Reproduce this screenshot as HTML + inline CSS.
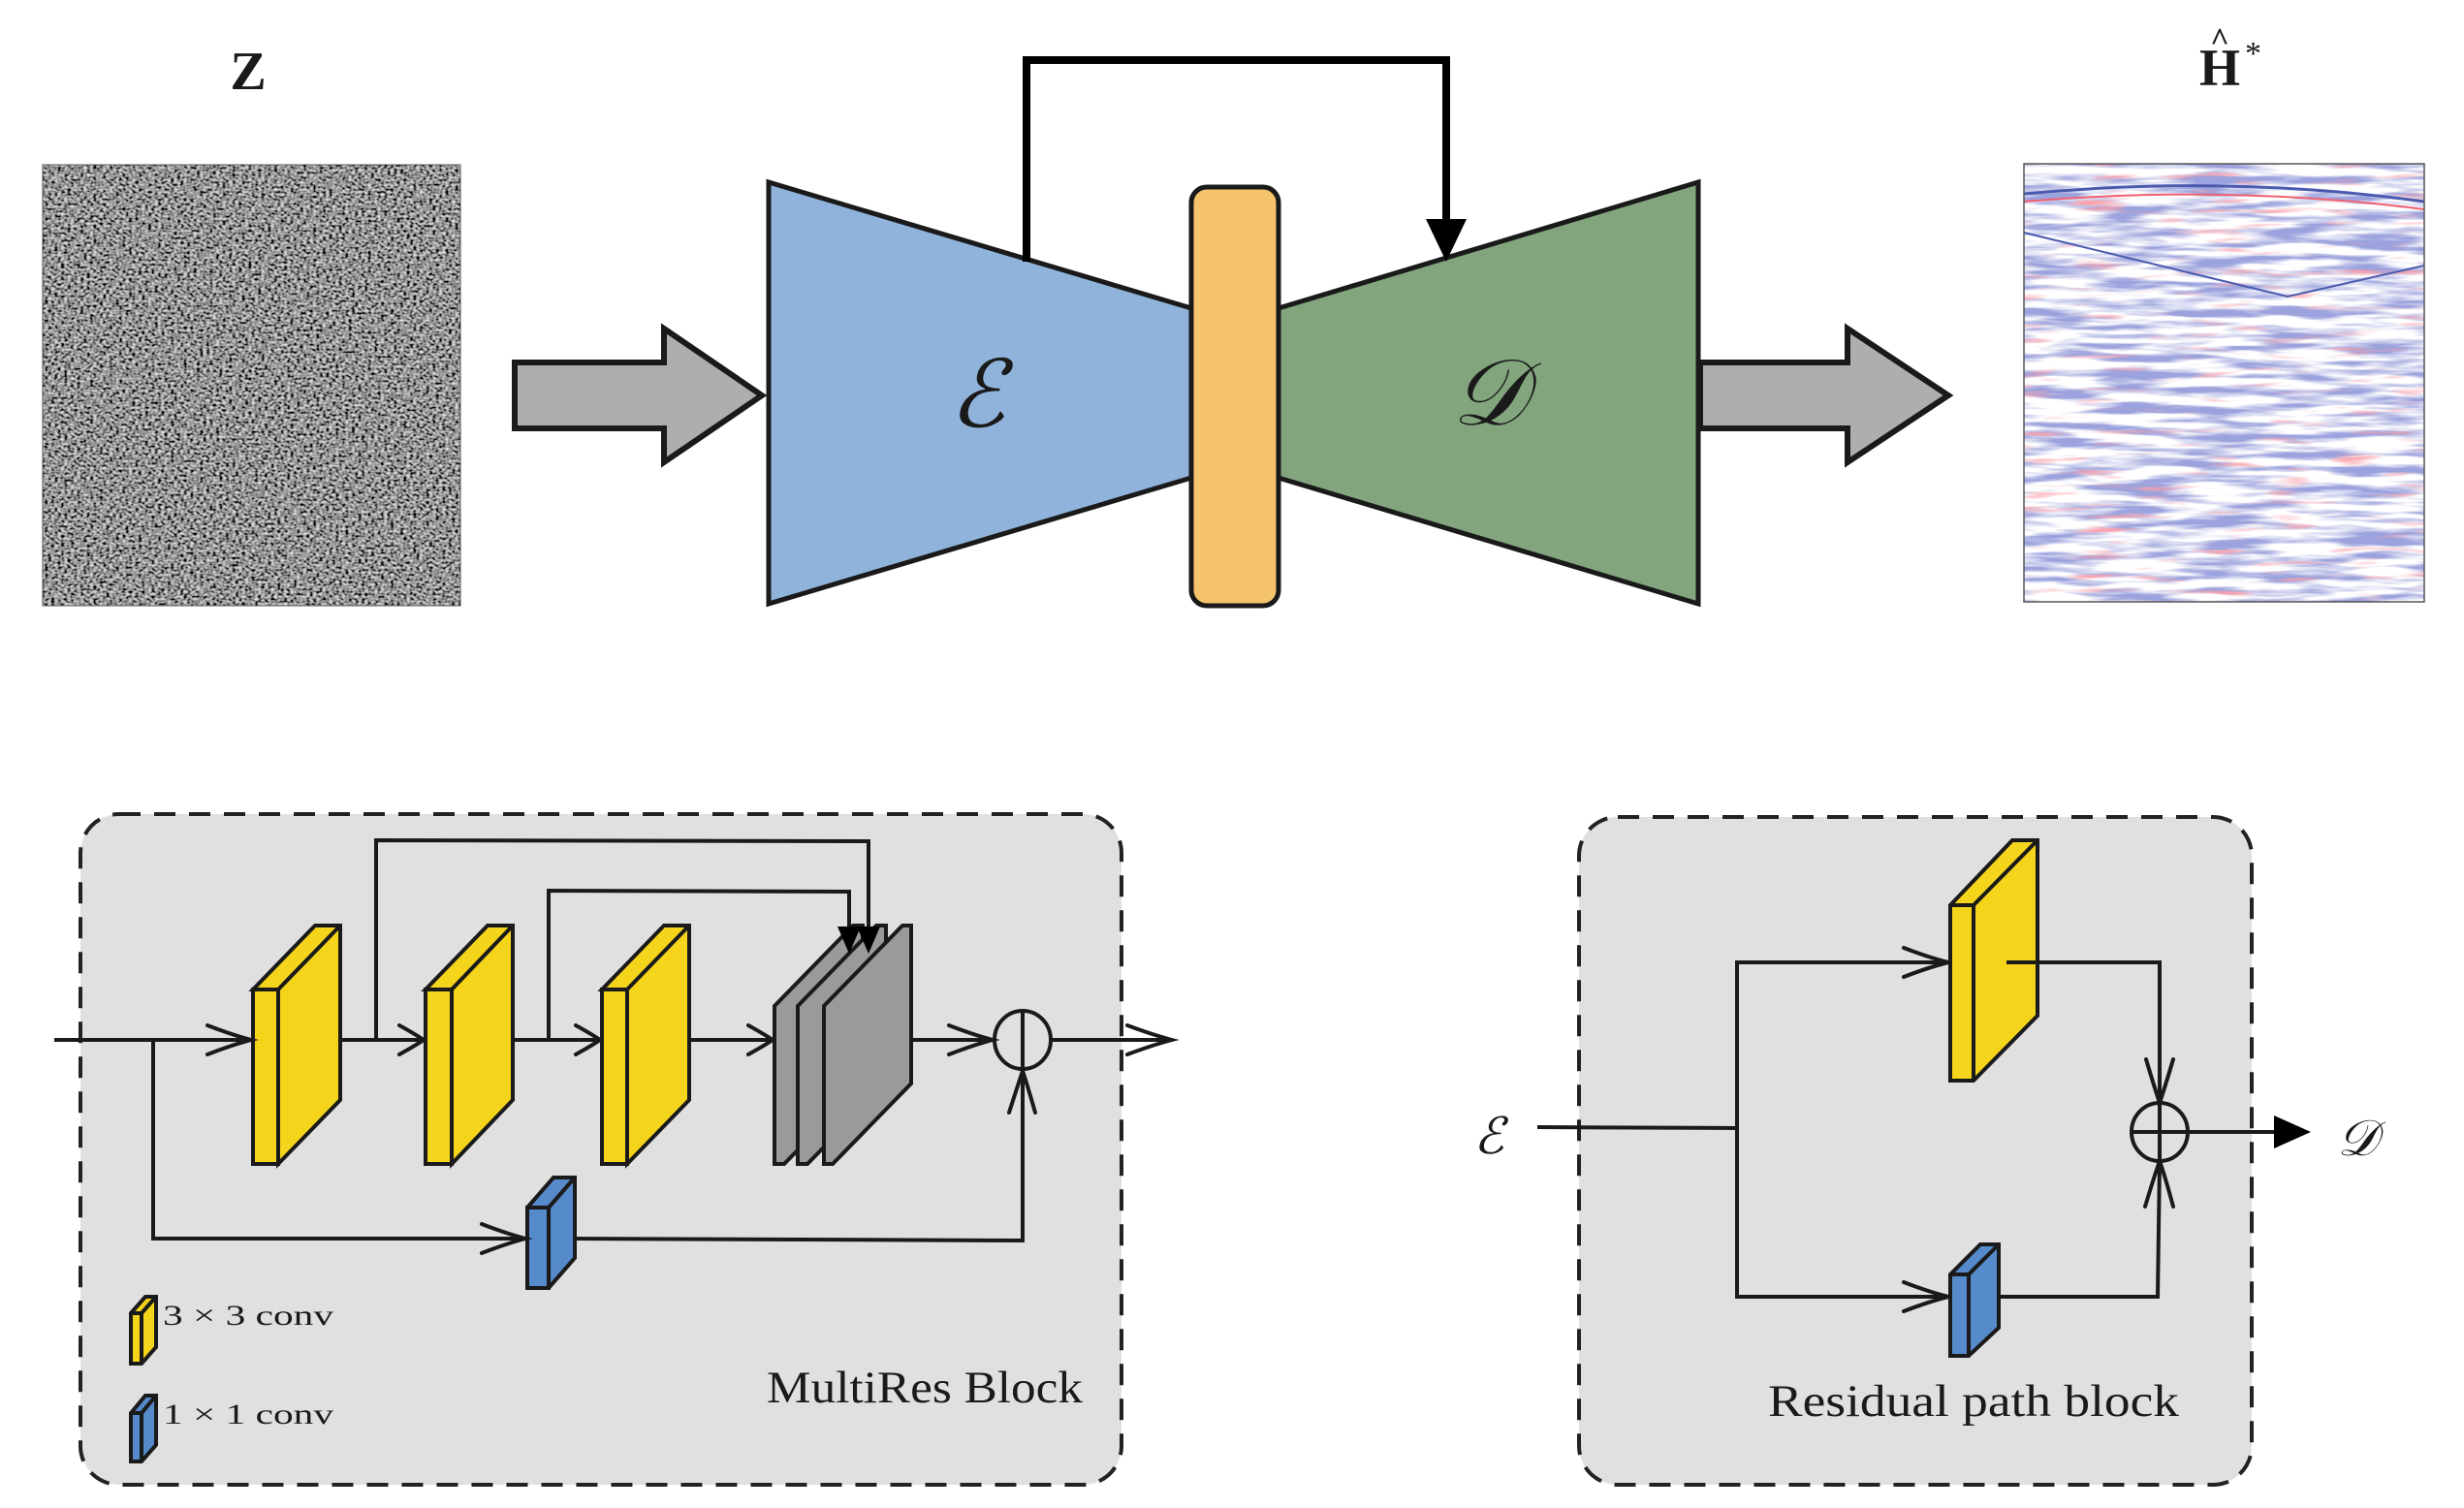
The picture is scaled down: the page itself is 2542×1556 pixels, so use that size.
<!DOCTYPE html>
<html><head><meta charset="utf-8"><style>
html,body{margin:0;padding:0;background:#fff;}
svg{display:block}
text{font-family:"Liberation Serif","DejaVu Serif",serif;fill:#1a1a1a}
</style></head><body>
<svg width="2542" height="1556" viewBox="0 0 2542 1556" xmlns="http://www.w3.org/2000/svg">
<defs>
<filter id="noise" x="0" y="0" width="100%" height="100%">
<feTurbulence type="fractalNoise" baseFrequency="0.3 0.4" numOctaves="1" seed="3"/>
<feColorMatrix type="matrix" values="1.6 0 0 0 -0.5  1.6 0 0 0 -0.5  1.6 0 0 0 -0.5  0 0 0 0 1"/>
</filter>
<filter id="seis" x="0" y="0" width="100%" height="100%">
<feTurbulence type="fractalNoise" baseFrequency="0.012 0.11" numOctaves="3" seed="7"/>
<feColorMatrix type="matrix" values="0 0 0 0 0.33  0 0 0 0 0.36  0 0 0 0 0.72  3.8 0 0 0 -1.55"/>
</filter>
<filter id="seis2" x="0" y="0" width="100%" height="100%">
<feTurbulence type="fractalNoise" baseFrequency="0.015 0.14" numOctaves="2" seed="19"/>
<feColorMatrix type="matrix" values="0 0 0 0 0.97  0 0 0 0 0.35  0 0 0 0 0.4  0 3.5 0 0 -2.1"/>
</filter>
</defs>

<text x="256" y="92" font-size="56" font-weight="bold" text-anchor="middle">Z</text>
<rect x="44" y="170" width="431" height="455" fill="#777"/>
<rect x="44" y="170" width="431" height="455" filter="url(#noise)"/>
<rect x="44" y="170" width="431" height="455" fill="none" stroke="#555" stroke-width="1"/>

<polygon points="531,374 685,374 685,339 786,408 685,477 685,442 531,442" fill="#adafad" stroke="#1a1a1a" stroke-width="6" stroke-linejoin="miter"/>

<polygon points="793,188 1229,318 1229,493 793,623" fill="#8fb3db" stroke="#1a1a1a" stroke-width="5"/>
<polygon points="1319,318 1752,188 1752,623 1319,493" fill="#82a57e" stroke="#1a1a1a" stroke-width="5"/>
<rect x="1229" y="193" width="90" height="432" rx="16" fill="#f5c36c" stroke="#1a1a1a" stroke-width="5"/>
<text x="1008" y="440" font-size="96" font-style="italic" text-anchor="middle">ℰ</text>
<text x="1536" y="438" font-size="96" font-style="italic" text-anchor="middle">𝒟</text>

<polyline points="1059,270 1059,62 1492,62 1492,232" fill="none" stroke="#000" stroke-width="8"/>
<polygon points="1471,226 1513,226 1492,270" fill="#000"/>

<polygon points="1754,374 1906,374 1906,339 2010,408 1906,477 1906,442 1754,442" fill="#adafad" stroke="#1a1a1a" stroke-width="6"/>

<text x="2290" y="88" font-size="54" font-weight="bold" text-anchor="middle">H</text>
<text x="2290" y="52" font-size="34" font-weight="bold" text-anchor="middle">^</text>
<text x="2316" y="66" font-size="34">*</text>
<rect x="2088" y="169" width="413" height="452" fill="#fff"/>
<rect x="2088" y="169" width="413" height="452" filter="url(#seis)"/>
<rect x="2088" y="169" width="413" height="452" filter="url(#seis2)"/>
<path d="M2088,200 Q2300,180 2501,208" fill="none" stroke="#4a5aae" stroke-width="3"/>
<path d="M2088,208 Q2300,190 2501,216" fill="none" stroke="#f06070" stroke-width="2"/>
<path d="M2088,240 L2360,306 L2501,274" fill="none" stroke="#4a5aae" stroke-width="2"/>
<rect x="2088" y="169" width="413" height="452" fill="none" stroke="#555" stroke-width="1.5"/>

<rect x="83" y="840" width="1074" height="692" rx="40" fill="#e0e0e0" stroke="#222" stroke-width="4" stroke-dasharray="22,14"/>
<g fill="none" stroke="#1a1a1a" stroke-width="4">
<line x1="56" y1="1073" x2="261" y2="1073"/>
<polyline points="158,1073 158,1278 544,1278"/>
<line x1="287" y1="1073" x2="439" y2="1073"/>
<line x1="466" y1="1073" x2="621" y2="1073"/>
<line x1="647" y1="1073" x2="799" y2="1073"/>
<line x1="900" y1="1073" x2="1025" y2="1073"/>
<line x1="1085" y1="1073" x2="1209" y2="1073"/>
<polyline points="582,1278 1055,1280 1055,1103"/>
<polyline points="388,1073 388,867 896,868 896,960"/>
<polyline points="566,1073 566,919 876,920 876,960"/>
</g>
<g stroke="#1a1a1a" stroke-width="4" stroke-linejoin="miter">
<polygon points="261,1021 325,955 351,955 351,1135 287,1201 287,1021" fill="#f5d51b"/>
<rect x="261" y="1021" width="26" height="180" fill="#f5d51b"/>
<line x1="287" y1="1021" x2="351" y2="955"/>
<polygon points="439,1021 503,955 529,955 529,1135 466,1201 466,1021" fill="#f5d51b"/>
<rect x="439" y="1021" width="27" height="180" fill="#f5d51b"/>
<line x1="466" y1="1021" x2="529" y2="955"/>
<polygon points="621,1021 685,955 711,955 711,1135 647,1201 647,1021" fill="#f5d51b"/>
<rect x="621" y="1021" width="26" height="180" fill="#f5d51b"/>
<line x1="647" y1="1021" x2="711" y2="955"/>
<polygon points="799,1038 880,955 890,955 890,1118 809,1201 799,1201" fill="#9a9a9a"/>
<polygon points="823,1038 904,955 914,955 914,1118 833,1201 823,1201" fill="#9a9a9a"/>
<polygon points="850,1038 931,955 940,955 940,1118 859,1201 850,1201" fill="#9a9a9a"/>
<polygon points="544,1246 571,1215 593,1215 593,1298 566,1329 544,1329" fill="#558acb"/>
<rect x="544" y="1246" width="22" height="83" fill="#558acb"/>
<line x1="566" y1="1246" x2="593" y2="1215"/>
</g>
<polygon points="864,956 888,956 876,984" fill="#000"/>
<polygon points="884,956 908,956 896,984" fill="#000"/>
<g fill="none" stroke="#1a1a1a" stroke-width="4" stroke-linecap="round">
<path d="M214,1058 Q240,1068 259,1073 Q240,1078 214,1088"/>
<path d="M412,1058 Q430,1068 437,1073 Q430,1078 412,1088"/>
<path d="M594,1058 Q612,1068 619,1073 Q612,1078 594,1088"/>
<path d="M772,1058 Q790,1068 797,1073 Q790,1078 772,1088"/>
<path d="M979,1058 Q1005,1068 1024,1073 Q1005,1078 979,1088"/>
<path d="M1163,1058 Q1190,1068 1209,1073 Q1190,1078 1163,1088"/>
<path d="M497,1263 Q523,1273 542,1278 Q523,1283 497,1293"/>
<path d="M1041,1148 Q1050,1120 1055,1105 Q1060,1120 1068,1148"/>
<ellipse cx="1055" cy="1073" rx="29" ry="30"/>
<line x1="1055" y1="1043" x2="1055" y2="1103"/>
</g>
<g stroke="#1a1a1a" stroke-width="4">
<polygon points="135,1355 150,1338 161,1338 161,1390 146,1407 135,1407" fill="#f5d51b"/>
<line x1="146" y1="1355" x2="161" y2="1338"/><line x1="146" y1="1355" x2="146" y2="1407"/><line x1="135" y1="1355" x2="146" y2="1355"/>
<polygon points="135,1458 150,1440 161,1440 161,1491 146,1508 135,1508" fill="#558acb"/>
<line x1="146" y1="1458" x2="161" y2="1440"/><line x1="146" y1="1458" x2="146" y2="1508"/><line x1="135" y1="1458" x2="146" y2="1458"/>
</g>
<text x="168" y="1367" font-size="30" textLength="176" lengthAdjust="spacingAndGlyphs">3 × 3 conv</text>
<text x="168" y="1469" font-size="30" textLength="176" lengthAdjust="spacingAndGlyphs">1 × 1 conv</text>
<text x="791" y="1447" font-size="47" textLength="326" lengthAdjust="spacingAndGlyphs">MultiRes Block</text>

<rect x="1629" y="843" width="694" height="689" rx="40" fill="#e0e0e0" stroke="#222" stroke-width="4" stroke-dasharray="22,14"/>
<text x="1536" y="1190" font-size="52" font-style="italic" text-anchor="middle">ℰ</text>
<text x="2432" y="1192" font-size="52" font-style="italic" text-anchor="middle">𝒟</text>
<g fill="none" stroke="#1a1a1a" stroke-width="4">
<line x1="1586" y1="1163" x2="1792" y2="1164"/>
<polyline points="2012,993 1792,993 1792,1338 2012,1338"/>
<polyline points="2070,993 2228,993 2228,1138"/>
<polyline points="2044,1338 2226,1338 2228,1198"/>
<line x1="2200" y1="1168" x2="2350" y2="1168"/>
</g>
<polygon points="2346,1151 2384,1168 2346,1185" fill="#000"/>
<g stroke="#1a1a1a" stroke-width="4">
<polygon points="2012,934 2076,867 2102,867 2102,1048 2036,1115 2012,1115" fill="#f5d51b"/>
<line x1="2036" y1="934" x2="2102" y2="867"/><line x1="2036" y1="934" x2="2036" y2="1115"/><line x1="2012" y1="934" x2="2036" y2="934"/>
<polygon points="2012,1315 2043,1284 2062,1284 2062,1370 2031,1399 2012,1399" fill="#558acb"/>
<line x1="2031" y1="1315" x2="2062" y2="1284"/><line x1="2031" y1="1315" x2="2031" y2="1399"/><line x1="2012" y1="1315" x2="2031" y2="1315"/>
</g>
<line x1="2070" y1="993" x2="2100" y2="993" stroke="#1a1a1a" stroke-width="4"/>
<g fill="none" stroke="#1a1a1a" stroke-width="4" stroke-linecap="round">
<path d="M1964,978 Q1990,988 2010,993 Q1990,998 1964,1008"/>
<path d="M1964,1323 Q1990,1333 2010,1338 Q1990,1343 1964,1353"/>
<path d="M2214,1093 Q2222,1120 2228,1138 Q2234,1120 2242,1093"/>
<path d="M2213,1245 Q2222,1215 2228,1198 Q2234,1215 2242,1245"/>
<ellipse cx="2228" cy="1168" rx="29" ry="30"/>
<line x1="2228" y1="1138" x2="2228" y2="1198"/>
</g>
<text x="1824" y="1461" font-size="47" textLength="424" lengthAdjust="spacingAndGlyphs">Residual path block</text>
</svg>
</body></html>
